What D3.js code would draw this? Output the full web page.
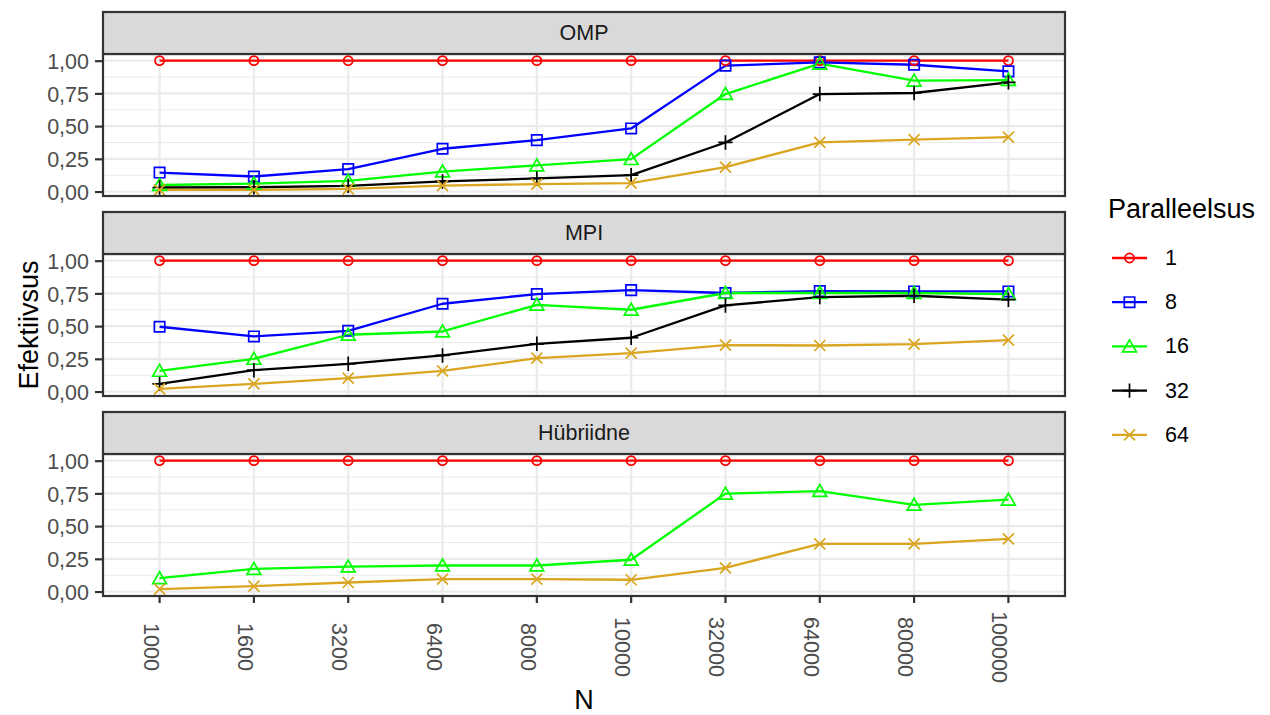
<!DOCTYPE html>
<html>
<head>
<meta charset="utf-8">
<script src="https://cdn.jsdelivr.net/npm/d3@7"></script>
<style>
  html, body { margin: 0; padding: 0; background: #fff; }
  svg { display: block; font-family: "Liberation Sans", Arial, Helvetica, sans-serif; }
</style>
</head>
<body>
<svg id="chart" width="1270" height="715"></svg>
<script>
// Problem sizes N (discrete x axis)
const categories = ["1000", "1600", "3200", "6400", "8000", "10000", "32000", "64000", "80000", "100000"];
const panels = ["OMP", "MPI", "Hübriidne"];
const parallelism = ["1", "8", "16", "32", "64"];
const yTicks = [0, 0.25, 0.5, 0.75, 1];
const yMinor = [0.125, 0.375, 0.625, 0.875];

// Efficiency per parallelism level, OMP
const ompP1  = [1, 1, 1, 1, 1, 1, 1, 1, 1, 1];
const ompP8  = [0.145, 0.115, 0.171, 0.327, 0.393, 0.482, 0.962, 0.987, 0.969, 0.918];
const ompP16 = [0.050, 0.061, 0.082, 0.153, 0.200, 0.248, 0.745, 0.977, 0.847, 0.852];
const ompP32 = [0.031, 0.033, 0.044, 0.077, 0.100, 0.125, 0.375, 0.745, 0.753, 0.834];
const ompP64 = [0.013, 0.013, 0.021, 0.046, 0.057, 0.064, 0.187, 0.375, 0.396, 0.416];

// Efficiency per parallelism level, MPI
const mpiP1  = [1, 1, 1, 1, 1, 1, 1, 1, 1, 1];
const mpiP8  = [0.495, 0.421, 0.464, 0.671, 0.745, 0.775, 0.753, 0.768, 0.765, 0.765];
const mpiP16 = [0.158, 0.250, 0.434, 0.459, 0.663, 0.625, 0.753, 0.753, 0.753, 0.745];
const mpiP32 = [0.059, 0.163, 0.212, 0.276, 0.365, 0.411, 0.658, 0.722, 0.732, 0.702];
const mpiP64 = [0.020, 0.059, 0.102, 0.158, 0.255, 0.294, 0.355, 0.352, 0.362, 0.393];

// Efficiency per parallelism level, hybrid
const hybP1  = [1, 1, 1, 1, 1, 1, 1, 1, 1, 1];
const hybP16 = [0.102, 0.173, 0.191, 0.199, 0.199, 0.243, 0.748, 0.768, 0.663, 0.702];
const hybP64 = [0.018, 0.041, 0.069, 0.095, 0.095, 0.090, 0.181, 0.365, 0.365, 0.403];

const panelSeries = {
  "OMP":       { "1": ompP1, "8": ompP8, "16": ompP16, "32": ompP32, "64": ompP64 },
  "MPI":       { "1": mpiP1, "8": mpiP8, "16": mpiP16, "32": mpiP32, "64": mpiP64 },
  "Hübriidne": { "1": hybP1, "16": hybP16, "64": hybP64 }
};

const colors = { "1": "#FF0000", "8": "#0000FF", "16": "#00FF00", "32": "#000000", "64": "#DAA520" };

// Marker shapes: open circle, open square, open triangle, plus, cross
function markerPath(level) {
  switch (level) {
    case "1": return d3.symbol(d3.symbolCircle, 66)();
    case "8": return "M-5.2,-5.2H5.2V5.2H-5.2Z";
    case "16": return "M0,-6.5L6.9,5.4H-6.9Z";
    case "32": return "M-7.2,0H7.2M0,-7.2V7.2";
    case "64": return "M-5.5,-5.5L5.5,5.5M-5.5,5.5L5.5,-5.5";
  }
}

const svg = d3.select("#chart");
const left = 103, right = 1065;
const stripH = 42, panelH = 142, period = 200, firstTop = 12;

const x = d3.scalePoint().domain(categories).range([left, right]).padding(0.6);

const grey20 = "#333333", grey30 = "#4D4D4D", grey92 = "#EBEBEB";

panels.forEach((name, i) => {
  const stripTop = firstTop + i * period;
  const top = stripTop + stripH;
  const bottom = top + panelH;
  const y = d3.scaleLinear().domain([-0.034, 1.051]).range([bottom, top]);
  const g = svg.append("g");

  // panel background and grid
  g.append("rect").attr("x", left).attr("y", top).attr("width", right - left).attr("height", panelH).attr("fill", "#fff");
  g.selectAll(".minor").data(yMinor).join("line")
    .attr("x1", left).attr("x2", right)
    .attr("y1", d => y(d)).attr("y2", d => y(d))
    .attr("stroke", grey92).attr("stroke-width", 1.1);
  g.selectAll(".major").data(yTicks).join("line")
    .attr("x1", left).attr("x2", right)
    .attr("y1", d => y(d)).attr("y2", d => y(d))
    .attr("stroke", grey92).attr("stroke-width", 2.2);
  g.selectAll(".vmajor").data(categories).join("line")
    .attr("x1", d => x(d)).attr("x2", d => x(d))
    .attr("y1", top).attr("y2", bottom)
    .attr("stroke", grey92).attr("stroke-width", 2.2);

  // series: all lines first, then all markers
  const series = panelSeries[name];
  const levels = parallelism.filter(l => series[l]);
  const line = d3.line().x((d, j) => x(categories[j])).y(d => y(d));
  levels.forEach(l => {
    g.append("path").attr("d", line(series[l]))
      .attr("fill", "none").attr("stroke", colors[l]).attr("stroke-width", 2.3)
      .attr("stroke-linejoin", "round");
  });
  levels.forEach(l => {
    g.selectAll(null).data(series[l]).join("path")
      .attr("d", markerPath(l))
      .attr("transform", (d, j) => `translate(${x(categories[j])},${y(d)})`)
      .attr("fill", "none").attr("stroke", colors[l]).attr("stroke-width", 1.7);
  });

  // border
  g.append("rect").attr("x", left).attr("y", top).attr("width", right - left).attr("height", panelH)
    .attr("fill", "none").attr("stroke", grey20).attr("stroke-width", 2.2);

  // strip
  g.append("rect").attr("x", left).attr("y", stripTop).attr("width", right - left).attr("height", stripH)
    .attr("fill", "#D9D9D9").attr("stroke", grey20).attr("stroke-width", 2.2);
  g.append("text").attr("x", (left + right) / 2).attr("y", stripTop + stripH / 2)
    .attr("text-anchor", "middle").attr("dominant-baseline", "central")
    .attr("font-size", 21.5).attr("fill", "#1A1A1A").text(name);

  // y axis
  const yAxis = d3.axisLeft(y).tickValues(yTicks).tickSize(7).tickPadding(6)
    .tickFormat(d => d3.format(".2f")(d).replace(".", ","));
  const ya = g.append("g").attr("transform", `translate(${left - 1},0)`).call(yAxis);
  ya.select(".domain").remove();
  ya.selectAll(".tick line").attr("stroke", grey20).attr("stroke-width", 2.2);
  ya.selectAll(".tick text").attr("fill", grey30).attr("font-size", 21.5)
    .attr("font-family", "Liberation Sans, Arial, sans-serif").attr("dy", "0.36em");

  // x axis on the last panel
  if (i === panels.length - 1) {
    const xa = g.append("g");
    xa.selectAll("line").data(categories).join("line")
      .attr("x1", d => x(d)).attr("x2", d => x(d))
      .attr("y1", bottom + 1).attr("y2", bottom + 7)
      .attr("stroke", grey20).attr("stroke-width", 2.2);
    xa.selectAll("text").data(categories).join("text")
      .attr("transform", d => `translate(${x(d) - 16},${bottom + 51}) rotate(90)`)
      .attr("text-anchor", "middle").attr("font-size", 21.5).attr("fill", grey30)
      .text(d => d);
  }
});

// axis titles
svg.append("text").attr("x", (left + right) / 2).attr("y", 709)
  .attr("text-anchor", "middle").attr("font-size", 27).attr("fill", "#000").text("N");
svg.append("text").attr("transform", "translate(38,325) rotate(-90)")
  .attr("text-anchor", "middle").attr("font-size", 27).attr("fill", "#000").text("Efektiivsus");

// legend
const legend = svg.append("g");
legend.append("text").attr("x", 1108).attr("y", 218).attr("font-size", 27).attr("fill", "#000").text("Paralleelsus");
parallelism.forEach((l, k) => {
  const cy = 258 + k * 44.2;
  legend.append("line").attr("x1", 1112).attr("x2", 1147).attr("y1", cy).attr("y2", cy)
    .attr("stroke", colors[l]).attr("stroke-width", 2.3);
  legend.append("path").attr("d", markerPath(l)).attr("transform", `translate(1129.5,${cy})`)
    .attr("fill", "none").attr("stroke", colors[l]).attr("stroke-width", 1.7);
  legend.append("text").attr("x", 1165).attr("y", cy).attr("dominant-baseline", "central")
    .attr("font-size", 21.5).attr("fill", "#000").text(l);
});
</script>
</body>
</html>
